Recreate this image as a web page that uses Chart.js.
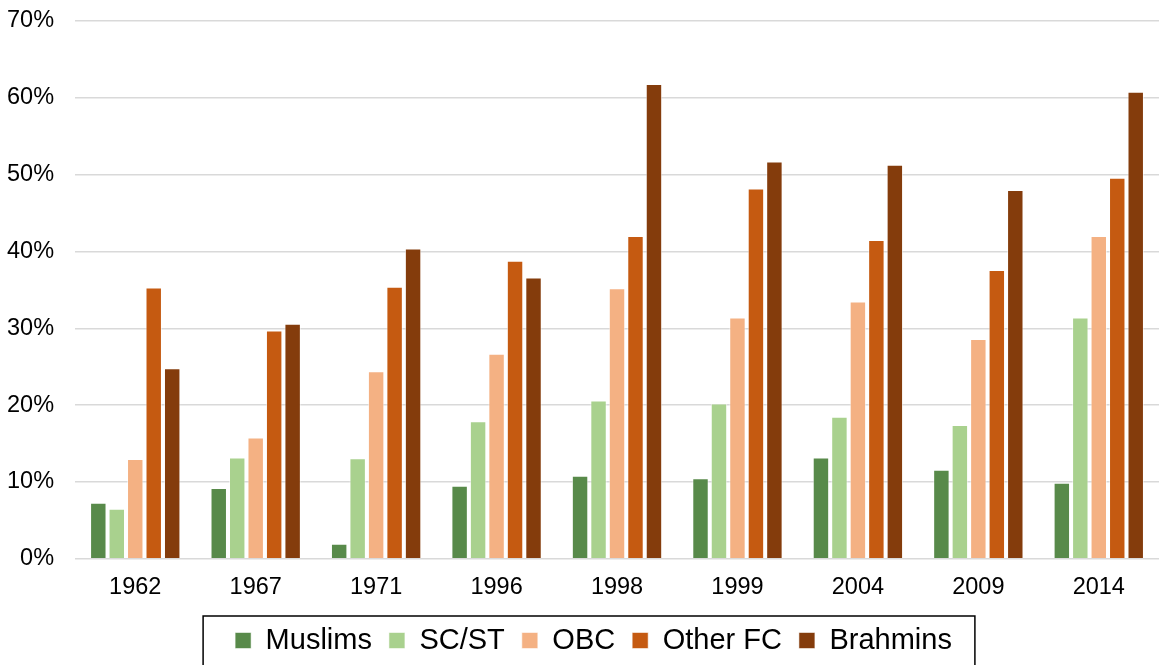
<!DOCTYPE html>
<html>
<head>
<meta charset="utf-8">
<script src="https://cdn.jsdelivr.net/npm/chart.js@4"></script>
<style>
  html, body { margin: 0; padding: 0; background: #fff; }
  #wrap { width: 1159px; height: 665px; }
</style>
</head>
<body>
<div id="wrap"><canvas id="castechart" width="1159" height="665"></canvas></div>
<script>
const years = ['1962', '1967', '1971', '1996', '1998', '1999', '2004', '2009', '2014'];
const muslims  = [7.3, 9.2, 1.95, 9.5, 10.8, 10.5, 13.2, 11.6, 9.9];
const scst     = [6.5, 13.2, 13.1, 17.9, 20.6, 20.2, 18.5, 17.4, 31.4];
const obc      = [13.0, 15.8, 24.4, 26.7, 35.2, 31.4, 33.5, 28.6, 42.0];
const otherFC  = [35.3, 29.7, 35.4, 38.8, 42.0, 48.2, 41.5, 37.6, 49.6];
const brahmins = [24.8, 30.6, 40.4, 36.6, 61.8, 51.7, 51.3, 48.0, 60.8];
const yTicks = [0, 10, 20, 30, 40, 50, 60, 70];

const font = "'Liberation Sans', Arial, sans-serif";

// move the legend a bit right and box it, like the excel one
const legendBorder = {
  id: 'legendBorder',
  afterLayout(chart) {
    chart.legend.left += 21;
    chart.legend.right += 21;
  },
  afterDraw(chart) {
    const boxes = chart.legend.legendHitBoxes;
    if (!boxes || !boxes.length) return;
    const left = Math.min(...boxes.map(b => b.left)) - 32;
    const right = Math.max(...boxes.map(b => b.left + b.width)) + 23;
    const top = boxes[0].top - 10;
    const ctx = chart.ctx;
    ctx.save();
    ctx.strokeStyle = '#000';
    ctx.lineWidth = 1.5;
    ctx.strokeRect(left, top, right - left, 80);
    ctx.restore();
  }
};

function bar(label, data, color) {
  return {
    label: label,
    data: data,
    backgroundColor: color,
    borderColor: 'rgba(255,255,255,0.55)',
    borderWidth: 1,
    barPercentage: 0.89,
    categoryPercentage: 0.767
  };
}

const ctx = document.getElementById('castechart').getContext('2d');
new Chart(ctx, {
  type: 'bar',
  data: {
    labels: years,
    datasets: [
      bar('Muslims', muslims, '#588A4A'),
      bar('SC/ST', scst, '#A9D18E'),
      bar('OBC', obc, '#F4B183'),
      bar('Other FC', otherFC, '#C55A11'),
      bar('Brahmins', brahmins, '#843C0C')
    ]
  },
  options: {
    responsive: false,
    animation: false,
    layout: {
      padding: { left: -14, right: 0, top: 0, bottom: 0 }
    },
    plugins: {
      legend: {
        position: 'bottom',
        labels: {
          color: '#000',
          font: { family: font, size: 29 },
          boxWidth: 16,
          boxHeight: 16,
          padding: 17
        }
      },
      tooltip: { enabled: false }
    },
    scales: {
      x: {
        grid: { display: false },
        border: { display: false },
        ticks: {
          color: '#000',
          font: { family: font, size: 23.5 },
          padding: 7
        }
      },
      y: {
        min: 0,
        max: 70,
        afterBuildTicks: axis => { axis.ticks = yTicks.map(v => ({ value: v })); },
        afterFit: axis => { axis.paddingTop = 21; },
        grid: { color: '#d9d9d9', lineWidth: 1.5, drawTicks: false },
        border: { display: false },
        ticks: {
          color: '#000',
          font: { family: font, size: 23.5 },
          padding: 21,
          callback: v => v + '%'
        }
      }
    }
  },
  plugins: [legendBorder]
});
</script>
</body>
</html>
